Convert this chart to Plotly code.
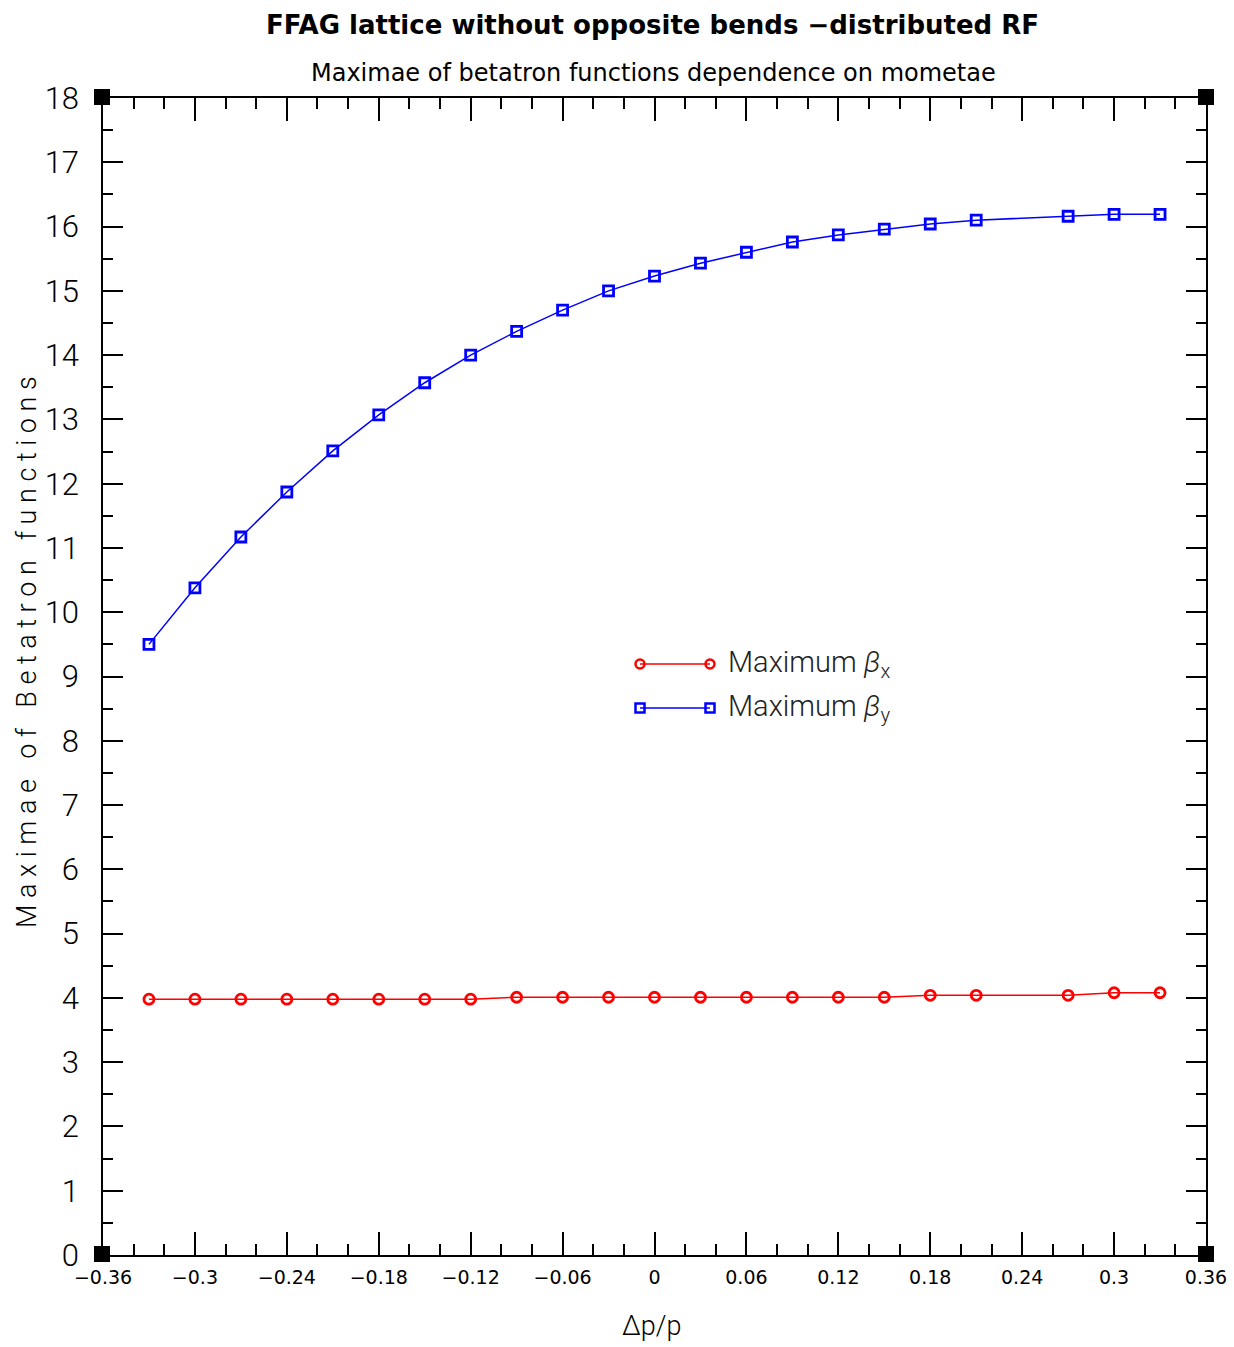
import plotly.graph_objects as go

dp = [-0.33, -0.30, -0.27, -0.24, -0.21, -0.18, -0.15, -0.12, -0.09, -0.06, -0.03,
      0.0, 0.03, 0.06, 0.09, 0.12, 0.15, 0.18, 0.21, 0.27, 0.30, 0.33]
beta_x = [3.98, 3.98, 3.98, 3.98, 3.98, 3.98, 3.98, 3.98, 4.01, 4.01, 4.01,
          4.01, 4.01, 4.01, 4.01, 4.01, 4.01, 4.04, 4.04, 4.04, 4.08, 4.08]
beta_y = [9.50, 10.38, 11.17, 11.87, 12.51, 13.07, 13.57, 14.00, 14.37, 14.70, 15.00,
          15.23, 15.43, 15.60, 15.76, 15.87, 15.96, 16.04, 16.10, 16.16, 16.19, 16.19]

x_ticks = [-0.36, -0.30, -0.24, -0.18, -0.12, -0.06, 0.0, 0.06, 0.12, 0.18, 0.24, 0.30, 0.36]
x_ticktext = ["−0.36", "−0.3", "−0.24", "−0.18", "−0.12", "−0.06", "0",
              "0.06", "0.12", "0.18", "0.24", "0.3", "0.36"]
y_ticks = list(range(0, 19))

FONT = "DejaVu Sans"
LIGHT = "Roboto"

W, H = 1234, 1347
PL, PR, PT, PB = 103, 1206, 98, 1255  # plot area in page pixels
L, R, T, B = PL, W - PR, PT, H - PB
pw, ph = PR - PL, PB - PT

def px2paper(px, py):
    return (px - PL) / pw, (PB - py) / ph

fig = go.Figure()
fig.add_trace(go.Scatter(x=dp, y=beta_x, mode="lines+markers", name="Maximum βx",
                         line=dict(color="#ff0000", width=1.5),
                         marker=dict(symbol="circle-open", size=10, color="#ff0000",
                                     line=dict(width=2.8, color="#ff0000")),
                         showlegend=False))
fig.add_trace(go.Scatter(x=dp, y=beta_y, mode="lines+markers", name="Maximum βy",
                         line=dict(color="#0000ff", width=1.5),
                         marker=dict(symbol="square-open", size=10, color="#0000ff",
                                     line=dict(width=2.8, color="#0000ff")),
                         showlegend=False))

shapes = []
annotations = []

# manual legend
for py, color, sym, label in [(664, "#ff0000", "circle", "Maximum <i>β</i><sub>x</sub>"),
                              (708, "#0000ff", "square", "Maximum <i>β</i><sub>y</sub>")]:
    x0, y0 = px2paper(640, py)
    x1, _ = px2paper(710, py)
    shapes.append(dict(type="line", xref="paper", yref="paper", x0=x0, x1=x1, y0=y0, y1=y0,
                       line=dict(color=color, width=1.5)))
    for cx in (640, 710):
        ax0, ay0 = px2paper(cx - 4.5, py - 4.5)
        ax1, ay1 = px2paper(cx + 4.5, py + 4.5)
        shapes.append(dict(type="circle" if sym == "circle" else "rect",
                           xref="paper", yref="paper", x0=ax0, x1=ax1, y0=ay0, y1=ay1,
                           line=dict(color=color, width=2.5), fillcolor="rgba(0,0,0,0)"))
    tx, ty = px2paper(726, py)
    annotations.append(dict(xref="paper", yref="paper", x=tx, y=ty, xanchor="left",
                            yanchor="middle", text=label, showarrow=False,
                            font=dict(family=LIGHT, size=29, color="#222", weight=300)))

# corner squares
for cx, cy in [(102, 97), (1206, 97), (102, 1254), (1206, 1254)]:
    ax0, ay0 = px2paper(cx - 8, cy - 8)
    ax1, ay1 = px2paper(cx + 8, cy + 8)
    shapes.append(dict(type="rect", xref="paper", yref="paper", x0=ax0, x1=ax1, y0=ay0, y1=ay1,
                       line=dict(color="black", width=0), fillcolor="black"))

annotations.append(dict(xref="paper", yref="paper", x=px2paper(652, 0)[0], y=px2paper(0, 25)[1],
                        text="<b>FFAG lattice without opposite bends −distributed RF</b>",
                        showarrow=False, xanchor="center", yanchor="middle",
                        font=dict(family=FONT, size=26, color="black")))
annotations.append(dict(xref="paper", yref="paper", x=px2paper(653, 0)[0], y=px2paper(0, 73)[1],
                        text="Maximae of betatron functions dependence on mometae",
                        showarrow=False, xanchor="center", yanchor="middle",
                        font=dict(family=FONT, size=24, color="black")))
annotations.append(dict(xref="paper", yref="paper", x=px2paper(27, 0)[0], y=px2paper(0, 652)[1],
                        text="M a x i m a e\u2002 o f\u2002 B e t a t r o n\u2002 f u n c t i o n s",
                        textangle=-90, showarrow=False, xanchor="center", yanchor="middle",
                        font=dict(family=LIGHT, size=27, color="black", weight=300)))
annotations.append(dict(xref="paper", yref="paper", x=px2paper(652, 0)[0], y=px2paper(0, 1326)[1],
                        text="Δp/p", showarrow=False, xanchor="center", yanchor="middle",
                        font=dict(family=LIGHT, size=27, color="black", weight=300)))

fig.update_layout(
    width=W, height=H,
    margin=dict(l=L, r=R, t=T, b=B),
    paper_bgcolor="white", plot_bgcolor="white",
    shapes=shapes, annotations=annotations,
    font=dict(family=FONT, color="black"),
)
fig.update_xaxes(range=[-0.36, 0.36], tickvals=x_ticks, ticktext=x_ticktext,
                 ticks="inside", ticklen=23, tickwidth=1.5, tickcolor="black",
                 minor=dict(dtick=0.02, tick0=-0.36, ticks="inside", ticklen=11,
                            tickwidth=1.5, tickcolor="black"),
                 showline=True, linecolor="black", linewidth=1.5, mirror="ticks",
                 showgrid=False, zeroline=False, ticklabelstandoff=4,
                 ticklabeloverflow="allow", automargin=False,
                 tickfont=dict(family=FONT, size=19))
fig.update_yaxes(range=[0, 18], tickvals=y_ticks,
                 ticks="inside", ticklen=20, tickwidth=1.5, tickcolor="black",
                 minor=dict(dtick=0.5, tick0=0, ticks="inside", ticklen=10,
                            tickwidth=1.5, tickcolor="black"),
                 showline=True, linecolor="black", linewidth=1.5, mirror="ticks",
                 showgrid=False, zeroline=False, ticklabelstandoff=16,
                 ticklabeloverflow="allow", automargin=False,
                 tickfont=dict(family=LIGHT, size=31, weight=300))

fig.write_html("out.html", config={"displayModeBar": False},
               post_script="document.body.style.margin='0px';document.body.style.overflow='hidden';")
